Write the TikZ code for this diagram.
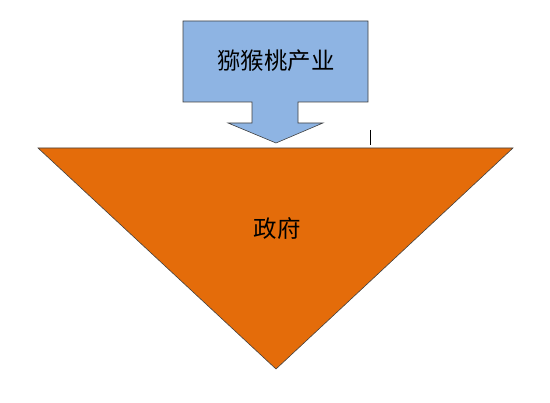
\documentclass[tikz,border=0pt]{standalone}
\usepackage{fontspec}
\newfontfamily\cjk{Noto Sans CJK SC}
\usetikzlibrary{positioning}
\tikzset{every node/.append style={font=\cjk\fontsize{20}{22}\selectfont}}
\tikzset{shapeline/.style={draw=black!75,line width=0.5pt}}
\definecolor{kiwiblue}{HTML}{8EB4E3}
\definecolor{govorange}{HTML}{E46C0A}

\begin{document}
\begin{tikzpicture}[x=0.03cm,y=-0.03cm]
  \useasboundingbox (0,0) rectangle (550,403);
  % government triangle
  \path[shapeline,fill=govorange] (38,148) -- (513,148) -- (276,369) -- cycle;
  \node (gov) at (277,229) {政府};
  % industry box with down arrow
  \path[shapeline,fill=kiwiblue] (183,21) -- (368,21) -- (368,102) -- (298,102) -- (298,123)
    -- (323,123) -- (276,143) -- (228,123) -- (252,123) -- (252,102) -- (183,102) -- cycle;
  \node (kiwi) at (276,61) {猕猴桃产业};
  \coordinate (mark top) at (370,130);
  \coordinate (mark bot) at (370,145);
  \draw[line width=0.8pt] (mark top) -- (mark bot);

\end{tikzpicture}
\end{document}
